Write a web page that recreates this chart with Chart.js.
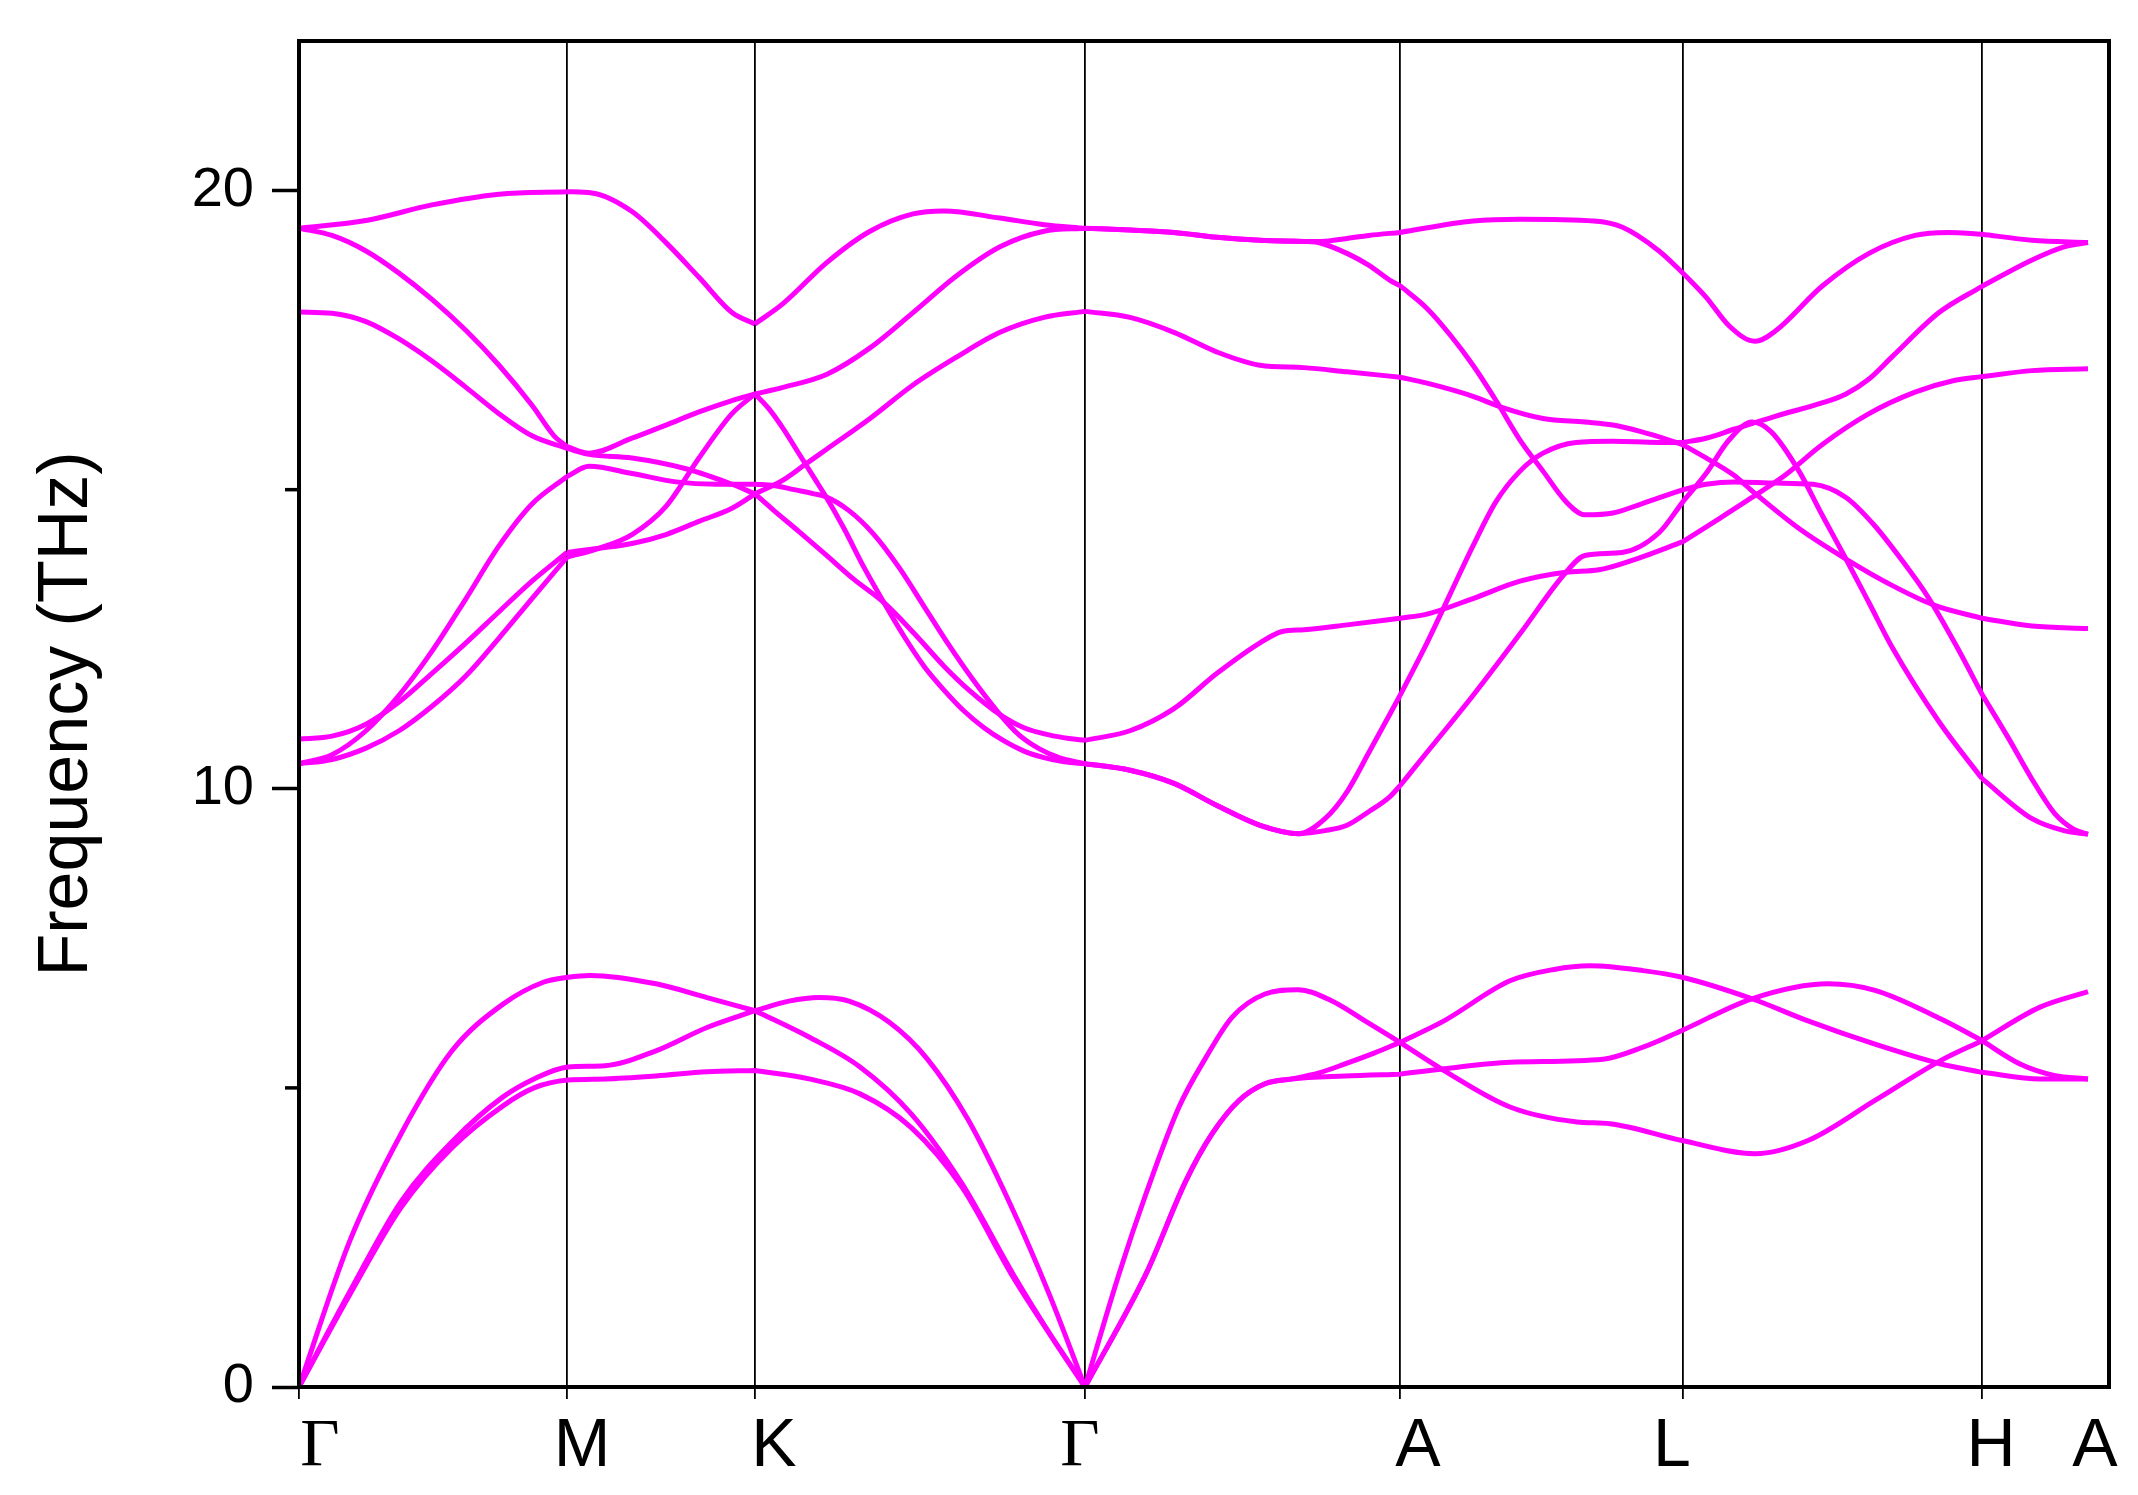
<!DOCTYPE html>
<html>
<head>
<meta charset="utf-8">
<title>Phonon dispersion</title>
<script src="https://cdn.jsdelivr.net/npm/chart.js@4.4.1/dist/chart.umd.min.js"></script>
<style>
  html, body { margin: 0; padding: 0; background: #fff; }
  #wrap { width: 2138px; height: 1495px; }
</style>
</head>
<body>
<div id="wrap"><canvas id="chart" width="2138" height="1495"></canvas></div>
<script>
// high symmetry path (distance along path, arbitrary units)
var kLabels = ['Γ', 'M', 'K', 'Γ', 'A', 'L', 'H', 'A'];
var kTicks = [0, 268, 456, 786, 1101, 1384, 1683, 1789];
// where the labels sit under the axis (they are a bit off the lines in the original)
var kLabelAt = [21, 283, 475, 781, 1119, 1373, 1692, 1796];
var kMax = 1810;
var freqTicks = [0, 5, 10, 15, 20];
var freqMax = 22.5;

// each band: [path distance, frequency in THz]
var acoustic1 = [[0,0],[51,2.45],[102,4.23],[153,5.62],[204,6.40],[245,6.77],[269,6.85],[291,6.88],[357,6.74],[408,6.51],[456,6.29],
  [510,5.85],[561,5.35],[612,4.57],[663,3.40],[714,1.89],[755,0.78],[786,0],
  [820,1.89],[847,3.23],[880,4.68],[907,5.51],[933,6.18],[966,6.57],[999,6.64],[1032,6.46],[1066,6.12],[1101,5.76],
  [1145,5.29],[1211,4.68],[1278,4.43],[1311,4.40],[1383,4.12],[1456,3.90],[1509,4.12],[1576,4.79],[1642,5.46],[1683,5.79],[1741,6.35],[1789,6.61]];
var acoustic2 = [[0,0],[51,1.6],[102,3.1],[153,4.1],[204,4.85],[235,5.15],[269,5.35],[306,5.37],[357,5.62],[408,6.01],[456,6.29],
  [490,6.45],[520,6.51],[550,6.45],[590,6.10],[628,5.49],[669,4.47],[710,3.1],[751,1.52],[786,0],
  [847,1.89],[887,3.45],[913,4.23],[940,4.79],[966,5.07],[993,5.15],[1020,5.25],[1046,5.40],[1075,5.58],[1101,5.76],
  [1145,6.12],[1211,6.79],[1255,6.98],[1291,7.04],[1344,6.96],[1383,6.85],[1453,6.49],[1509,6.12],[1576,5.73],[1642,5.40],[1683,5.26],[1741,5.15],[1789,5.15]];
var acoustic3 = [[0,0],[51,1.55],[102,3.0],[153,4.0],[204,4.7],[235,5.0],[269,5.13],[306,5.15],[357,5.2],[408,5.27],[456,5.29],
  [510,5.15],[561,4.9],[612,4.34],[663,3.34],[714,1.84],[786,0],
  [847,1.89],[887,3.45],[913,4.23],[940,4.79],[966,5.07],[993,5.15],[1046,5.20],[1101,5.23],[1145,5.32],[1211,5.43],[1304,5.48],
  [1344,5.68],[1383,5.96],[1453,6.49],[1529,6.74],[1576,6.63],[1642,6.15],[1683,5.79],[1721,5.40],[1755,5.21],[1789,5.15]];

var optical1 = [[0,19.37],[67,19.50],[133,19.76],[200,19.94],[268,19.98],[293,19.96],[333,19.65],[367,19.13],[400,18.55],[433,17.96],[456,17.77],
  [484,18.11],[528,18.80],[571,19.32],[614,19.61],[645,19.66],[701,19.54],[745,19.43],[786,19.37],
  [831,19.34],[875,19.30],[918,19.22],[961,19.17],[1005,19.15],[1022,19.15],[1048,19.20],[1070,19.25],[1101,19.30],
  [1174,19.49],[1221,19.52],[1295,19.49],[1323,19.39],[1360,18.99],[1384,18.62],[1407,18.22],[1430,17.74],[1456,17.48],[1477,17.66],
  [1523,18.40],[1570,18.95],[1616,19.25],[1649,19.30],[1683,19.27],[1733,19.17],[1789,19.13]];
var optical2 = [[0,19.37],[33,19.25],[67,18.99],[100,18.62],[133,18.18],[167,17.66],[200,17.08],[233,16.41],[255,15.90],[268,15.72],
  [290,15.61],[333,15.86],[367,16.08],[400,16.30],[433,16.49],[456,16.60],
  [484,16.71],[528,16.93],[571,17.37],[614,17.96],[658,18.58],[701,19.06],[745,19.32],[786,19.37],
  [831,19.34],[875,19.30],[918,19.22],[961,19.17],[1005,19.15],[1022,19.12],[1048,18.95],[1070,18.75],[1091,18.50],[1101,18.41],
  [1128,18.03],[1151,17.59],[1174,17.08],[1197,16.49],[1221,15.83],[1244,15.31],[1267,14.80],[1286,14.58],[1314,14.61],[1342,14.76],
  [1384,15.0],[1407,15.09],[1435,15.13],[1477,15.11],[1514,15.09],[1547,14.87],[1574,14.43],[1602,13.84],[1630,13.18],[1658,12.37],
  [1683,11.58],[1710,10.83],[1733,10.16],[1756,9.58],[1775,9.32],[1789,9.24]];
var optical3 = [[0,17.97],[33,17.95],[67,17.81],[100,17.52],[133,17.15],[167,16.71],[200,16.27],[233,15.90],[268,15.69],
  [290,15.59],[333,15.53],[387,15.35],[433,15.09],[456,14.93],
  [475,14.65],[500,14.30],[527,13.91],[555,13.50],[585,13.11],[615,12.60],[645,12.05],[670,11.65],[701,11.24],[725,11.02],[750,10.90],[770,10.84],[786,10.81],
  [831,10.97],[875,11.34],[918,11.93],[961,12.44],[983,12.63],[1005,12.66],[1048,12.74],[1101,12.85],
  [1128,12.92],[1174,13.18],[1221,13.47],[1267,13.62],[1300,13.66],[1337,13.84],[1384,14.13],[1416,14.47],[1453,14.87],[1486,15.24],
  [1523,15.75],[1570,16.27],[1616,16.63],[1654,16.82],[1683,16.89],[1733,16.99],[1789,17.02]];
var optical4 = [[0,10.42],[33,10.57],[67,10.97],[100,11.56],[133,12.30],[167,13.18],[200,14.06],[233,14.76],[268,15.22],
  [290,15.39],[333,15.27],[377,15.13],[417,15.09],[456,15.09],
  [475,15.07],[495,15.0],[515,14.93],[527,14.88],[550,14.65],[575,14.25],[600,13.70],[625,13.05],[650,12.40],[675,11.80],[701,11.24],
  [720,10.90],[740,10.67],[760,10.52],[786,10.42],
  [831,10.31],[875,10.09],[918,9.72],[961,9.39],[1000,9.25],[1026,9.30],[1048,9.39],[1070,9.62],[1091,9.87],[1101,10.05],
  [1128,10.61],[1174,11.56],[1221,12.59],[1267,13.62],[1286,13.90],[1323,13.95],[1360,14.28],[1384,14.80],[1407,15.27],[1430,15.83],
  [1453,16.13],[1472,15.97],[1500,15.31],[1523,14.58],[1547,13.84],[1570,13.11],[1593,12.37],[1640,11.12],[1683,10.17],[1733,9.50],
  [1765,9.30],[1789,9.24]];
var optical5 = [[0,10.83],[33,10.88],[67,11.08],[100,11.45],[133,11.93],[167,12.44],[200,12.96],[233,13.47],[268,13.95],
  [300,14.02],[333,14.10],[367,14.25],[400,14.47],[433,14.69],[456,14.93],
  [484,15.16],[506,15.42],[528,15.68],[571,16.19],[614,16.75],[658,17.22],[701,17.63],[745,17.88],[786,17.98],
  [831,17.88],[875,17.63],[918,17.30],[961,17.08],[1005,17.04],[1048,16.97],[1101,16.88],
  [1128,16.78],[1174,16.56],[1202,16.38],[1244,16.19],[1286,16.13],[1314,16.08],[1342,15.97],[1370,15.83],[1384,15.75],[1407,15.53],
  [1435,15.24],[1453,14.98],[1500,14.35],[1547,13.84],[1593,13.40],[1635,13.07],[1683,12.85],[1733,12.72],[1789,12.68]];
var optical6 = [[0,10.42],[33,10.49],[67,10.68],[100,10.97],[133,11.38],[167,11.89],[200,12.52],[233,13.18],[268,13.87],
  [300,14.02],[333,14.25],[367,14.72],[400,15.53],[433,16.27],[456,16.60],
  [470,16.35],[485,16.0],[500,15.6],[515,15.2],[527,14.88],[545,14.35],[565,13.70],[585,13.11],[605,12.55],[625,12.05],[645,11.65],
  [665,11.30],[685,11.02],[705,10.80],[725,10.63],[745,10.52],[765,10.45],[786,10.42],
  [831,10.31],[875,10.09],[918,9.72],[961,9.39],[1000,9.25],[1026,9.50],[1048,9.95],[1070,10.61],[1101,11.56],
  [1128,12.44],[1151,13.25],[1174,14.06],[1197,14.80],[1221,15.31],[1244,15.61],[1277,15.79],[1314,15.81],[1360,15.79],[1384,15.79],
  [1407,15.86],[1435,16.01],[1477,16.23],[1523,16.45],[1547,16.60],[1570,16.85],[1593,17.22],[1640,17.96],[1683,18.40],[1733,18.84],
  [1765,19.06],[1789,19.13]];

var bands = [acoustic1, acoustic2, acoustic3, optical1, optical2, optical3, optical4, optical5, optical6];

// the spline restarts at every high symmetry point so corners stay sharp there
function toPoints(b) {
  var out = [];
  b.forEach(function(p, i) {
    out.push({x: p[0], y: p[1]});
    if (i > 0 && i < b.length - 1 && kTicks.indexOf(p[0]) > 0) {
      out.push({x: p[0], y: null});
      out.push({x: p[0], y: p[1]});
    }
  });
  return out;
}

var datasets = bands.map(function(b, i) {
  return {
    label: 'band ' + (i + 1),
    data: toPoints(b),
    borderColor: '#ff00ff',
    borderWidth: 5,
    pointRadius: 0,
    fill: false,
    spanGaps: false,
    cubicInterpolationMode: 'monotone'
  };
});

// box round the plot and the short minor ticks on the y axis
var frame = {
  id: 'frame',
  afterDraw: function(chart) {
    var a = chart.chartArea, c = chart.ctx, ys = chart.scales.y;
    c.save();
    c.strokeStyle = '#000';
    c.lineWidth = 3.5;
    freqTicks.forEach(function(v) {
      if (v % 10 === 0) return;
      var py = ys.getPixelForValue(v);
      c.beginPath();
      c.moveTo(a.left - 14, py);
      c.lineTo(a.left, py);
      c.stroke();
    });
    c.lineWidth = 4;
    c.strokeRect(a.left, a.top, a.right - a.left, a.bottom - a.top);
    c.restore();
  }
};

var ctx = document.getElementById('chart');
var chart = new Chart(ctx, {
  type: 'line',
  data: { datasets: datasets },
  plugins: [frame],
  options: {
    responsive: false,
    devicePixelRatio: 1,
    animation: false,
    layout: { padding: { left: 0, right: 29, top: 41, bottom: 0 } },
    plugins: { legend: { display: false }, tooltip: { enabled: false } },
    scales: {
      x: {
        type: 'linear',
        min: 0,
        max: kMax,
        weight: 0,
        afterBuildTicks: function(scale) {
          scale.ticks = kTicks.map(function(v) { return {value: v}; });
        },
        afterFit: function(scale) { scale.height = 12; scale.paddingLeft = 0; scale.paddingRight = 0; },
        border: { display: false },
        grid: {
          color: function(c) { return (c.index === 0 || c.index === kTicks.length - 1) ? 'rgba(0,0,0,0)' : '#000'; },
          tickColor: function(c) { return c.index === kTicks.length - 1 ? 'rgba(0,0,0,0)' : '#000'; },
          lineWidth: 1.8,
          tickLength: 12
        },
        ticks: { display: false }
      },
      xl: {
        type: 'linear',
        position: 'bottom',
        min: 0,
        max: kMax,
        weight: 1,
        afterBuildTicks: function(scale) {
          scale.ticks = kLabelAt.map(function(v) { return {value: v}; });
        },
        afterFit: function(scale) { scale.height = 96; scale.paddingLeft = 0; scale.paddingRight = 0; },
        border: { display: false },
        grid: { display: false, drawTicks: false },
        ticks: {
          autoSkip: false,
          maxRotation: 0,
          padding: 7,
          color: '#000',
          font: function(c) {
            var serif = kLabels[c.index] === 'Γ';
            return { family: serif ? 'Liberation Serif' : 'Liberation Sans', size: 68 };
          },
          callback: function(v, i) { return kLabels[i]; }
        }
      },
      y: {
        min: 0,
        max: freqMax,
        afterBuildTicks: function(scale) {
          scale.ticks = freqTicks.map(function(v) { return {value: v}; });
        },
        afterFit: function(scale) { scale.width = 299; scale.paddingTop = 0; scale.paddingBottom = 0; },
        border: { display: false },
        grid: {
          drawOnChartArea: false,
          tickLength: 27,
          tickWidth: 3.5,
          tickColor: function(c) { return c.tick && c.tick.value % 10 === 0 ? '#000' : 'rgba(0,0,0,0)'; }
        },
        ticks: {
          padding: 18,
          color: '#000',
          font: { family: 'Liberation Sans', size: 56 },
          callback: function(v) { return v % 10 === 0 ? String(v) : ''; }
        },
        title: {
          display: true,
          text: 'Frequency (THz)',
          color: '#000',
          font: { family: 'Liberation Sans', size: 70 },
          padding: { top: 26, bottom: 0 }
        }
      }
    }
  }
});
</script>
</body>
</html>
